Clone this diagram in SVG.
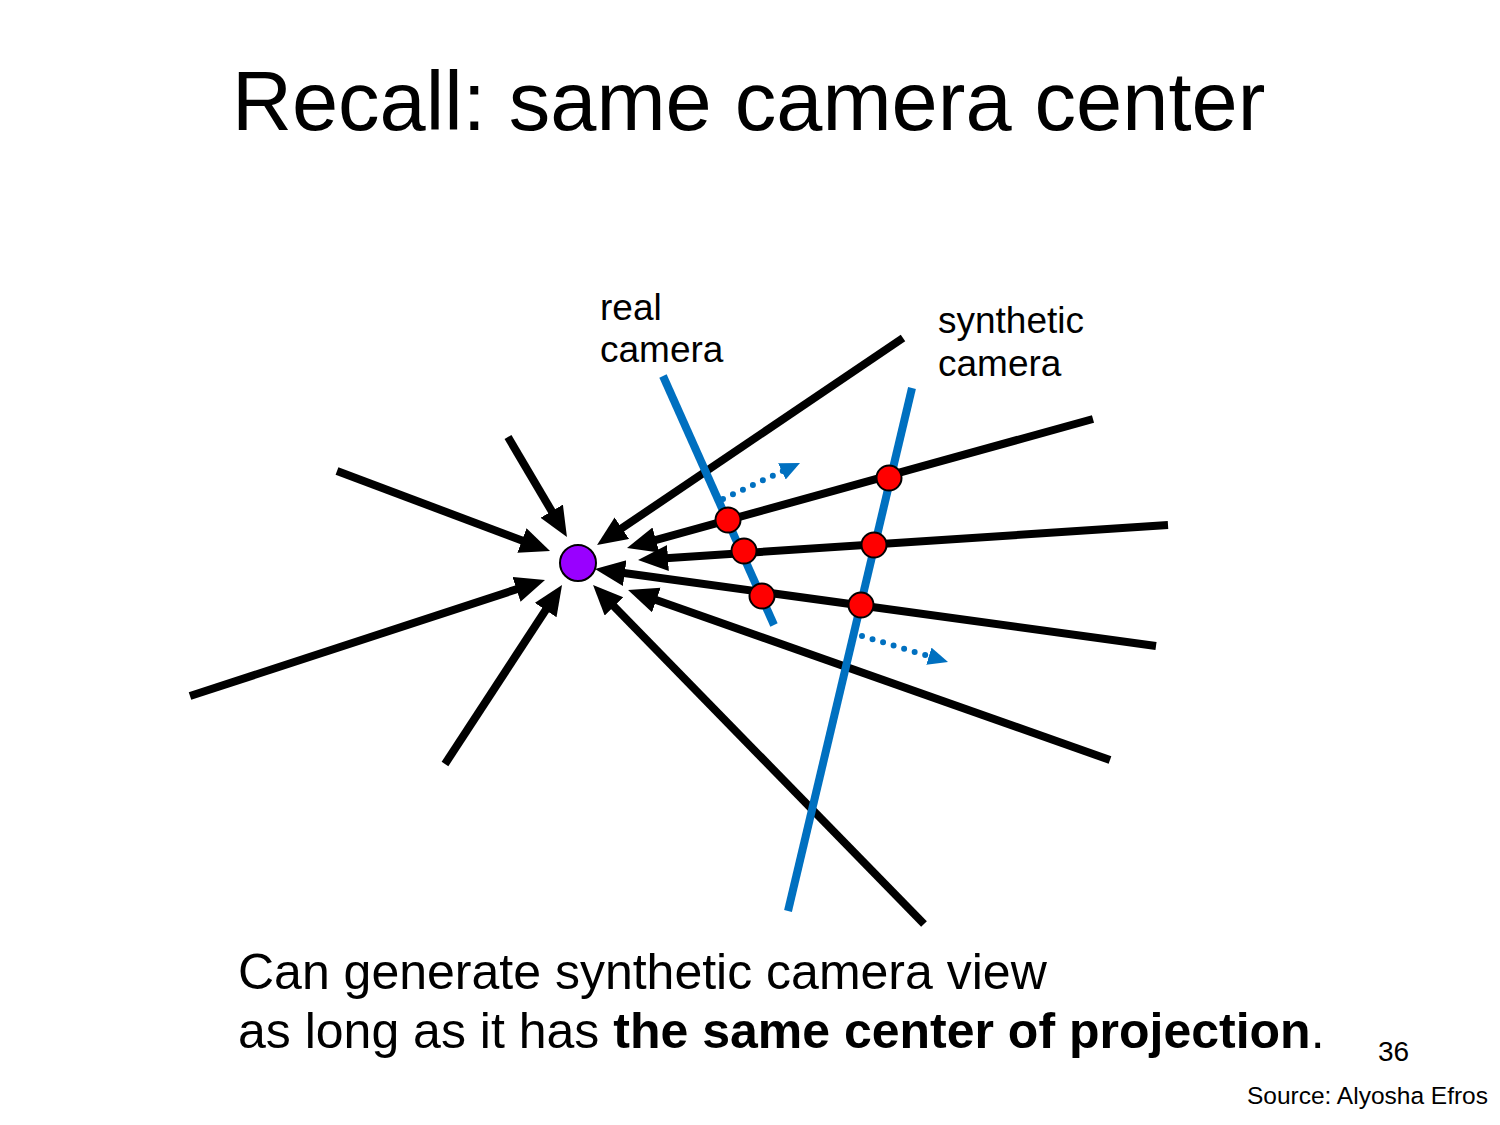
<svg xmlns="http://www.w3.org/2000/svg" width="1500" height="1125" viewBox="0 0 1500 1125">
<defs>
<marker id="ah" markerUnits="userSpaceOnUse" markerWidth="32" markerHeight="28" refX="10" refY="13" orient="auto">
<path d="M0,0 L30,13 L0,26 z" fill="#000"/>
</marker>
<marker id="bh" markerUnits="userSpaceOnUse" markerWidth="22" markerHeight="20" refX="2" refY="9" orient="auto">
<path d="M0,0 L20,9 L0,18 z" fill="#0070C0"/>
</marker>
</defs>
<style>
.t{font-family:"Liberation Sans",Arial,sans-serif;fill:#000}
.ray{stroke:#000;stroke-width:8;fill:none;marker-end:url(#ah)}
.blue{stroke:#0070C0;stroke-width:8;fill:none}
.dot{stroke:#0070C0;stroke-width:6;stroke-linecap:round;stroke-dasharray:0 11;fill:none;marker-end:url(#bh)}
.red{fill:#FF0000;stroke:#000;stroke-width:2}
</style>
<rect width="1500" height="1125" fill="#fff"/>
<text class="t" x="232" y="130" font-size="83">Recall: same camera center</text>
<g id="connectors">
<line class="ray" x1="508" y1="437" x2="556.8" y2="519.8"/>
<line class="ray" x1="337" y1="471" x2="531.3" y2="544"/>
<line class="ray" x1="190" y1="696" x2="526" y2="586.2"/>
<line class="ray" x1="445" y1="764" x2="551.1" y2="601.7"/>
<line class="ray" x1="924" y1="924" x2="607" y2="599.3"/>
<line class="ray" x1="903" y1="338" x2="613.6" y2="533.8"/>
<line class="ray" x1="1093" y1="419" x2="646.3" y2="542.7"/>
<line class="ray" x1="1168" y1="525" x2="658" y2="558.7"/>
<line class="ray" x1="1156" y1="646" x2="614.8" y2="571.7"/>
<line class="ray" x1="1110" y1="760" x2="646.9" y2="596.7"/>
</g>
<g id="real-camera">
<line class="blue" x1="663" y1="376" x2="774" y2="625"/>
<text class="t" x="600" y="320" font-size="37">real</text>
<text class="t" x="600" y="362" font-size="37">camera</text>
</g>
<g id="synthetic-camera">
<line class="blue" x1="912" y1="388" x2="788" y2="911"/>
<text class="t" x="938" y="333" font-size="37">synthetic</text>
<text class="t" x="938" y="376" font-size="37">camera</text>
</g>
<g id="motion-arrows">
<line class="dot" x1="723" y1="499" x2="783.7" y2="470.6"/>
<line class="dot" x1="862" y1="636" x2="930.8" y2="656.8"/>
</g>
<g id="center">
<circle cx="578" cy="563" r="18" fill="#9900FF" stroke="#000" stroke-width="2"/>
</g>
<g id="intersections">
<circle class="red" cx="728" cy="520" r="12.5"/>
<circle class="red" cx="744" cy="551" r="12.5"/>
<circle class="red" cx="762" cy="596" r="12.5"/>
<circle class="red" cx="889" cy="478" r="12.5"/>
<circle class="red" cx="874" cy="545" r="12.5"/>
<circle class="red" cx="861" cy="605" r="12.5"/>
</g>
<text class="t" x="238" y="989" font-size="50">Can generate synthetic camera view</text>
<text class="t" x="238" y="1048" font-size="50">as long as it has <tspan font-weight="bold">the same center of projection</tspan>.</text>
<text class="t" x="1378" y="1061" font-size="28">36</text>
<text class="t" x="1488" y="1104" font-size="24.5" text-anchor="end">Source: Alyosha Efros</text>
</svg>
